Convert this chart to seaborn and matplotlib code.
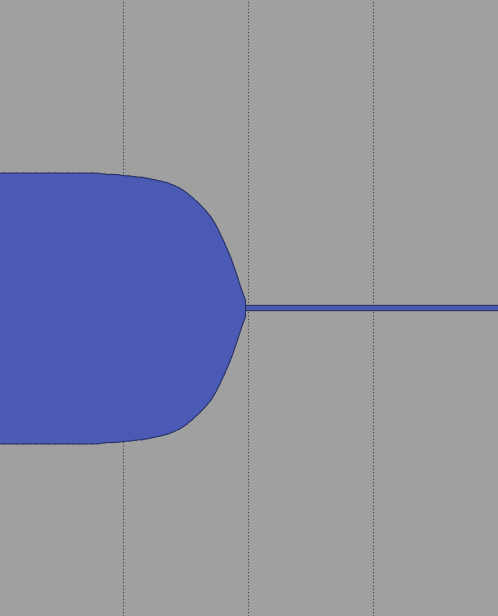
import matplotlib
matplotlib.use("Agg")
import matplotlib.pyplot as plt
import seaborn as sns
import numpy as np

# Main body: value bins and how many observations fall in each
main_values = [-0.10, -0.05, 0.00, 0.05, 0.10, 0.15, 0.20, 0.25, 0.30, 0.35,
               0.40, 0.45, 0.50, 0.55, 0.60, 0.65, 0.70, 0.75, 0.80, 0.85,
               0.90, 0.95, 1.00, 1.05, 1.10, 1.15, 1.20, 1.25, 1.30, 1.35,
               1.40, 1.45, 1.50, 1.55, 1.60, 1.65, 1.70, 1.75, 1.80, 1.85,
               1.90, 1.95]
main_counts = [100, 100, 100, 100, 100, 100, 100, 100, 100, 100,
               100, 100, 100, 100, 100, 100, 100, 100, 100, 99,
               99, 99, 98, 98, 97, 97, 96, 95, 94, 93,
               91, 89, 86, 82, 78, 73, 68, 60, 50, 40,
               27, 12]

# Thin long tail running off to the right
tail_values = [0, 1, 2, 3, 4, 5, 6, 7, 8]

grid_ticks = [1, 2, 3]

BG = "#a0a0a0"
FILL = "#4b5ab5"
EDGE = "#283264"

main_data = np.repeat(np.array(main_values), main_counts)
tail_data = np.array(tail_values, dtype=float)

sns.set_style("white")
fig = plt.figure(figsize=(4.98, 6.16), dpi=100, facecolor=BG)
ax = fig.add_axes([0, 0, 1, 1])
ax.set_facecolor(BG)

# tail first so the body sits on top of it
sns.violinplot(x=tail_data, orient="h", ax=ax, color=FILL, saturation=1,
               linecolor=EDGE, linewidth=0.8, inner=None, cut=0,
               bw_method=0.7 / np.std(tail_data, ddof=1), width=0.017)
sns.violinplot(x=main_data, orient="h", ax=ax, color=FILL, saturation=1,
               linecolor=EDGE, linewidth=0.8, inner=None, cut=0.87,
               bw_method=0.03 / np.std(main_data, ddof=1), width=0.881)

ax.set_xlim(0.016, 4.0)
ax.set_ylim(1, -1)
ax.set_xticks(grid_ticks)
ax.set_yticks([])
ax.set_axisbelow(True)
ax.grid(axis="x", color="#3a3a3a", linestyle=(0, (1, 2)), linewidth=0.8)
ax.tick_params(length=0, labelbottom=False, labelleft=False)
ax.set_xlabel("")
ax.set_ylabel("")
for s in ax.spines.values():
    s.set_visible(False)

fig.savefig("out.png", dpi=100, facecolor=BG)
